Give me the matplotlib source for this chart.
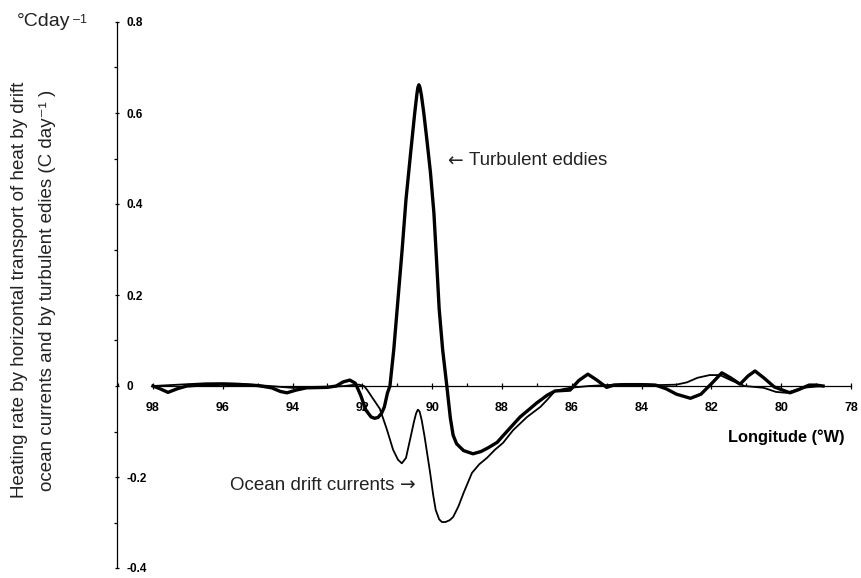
import numpy as np
import matplotlib
matplotlib.use("Agg")
import matplotlib.pyplot as plt
from matplotlib.ticker import MultipleLocator

plt.rcParams['font.family'] = ['Liberation Sans', 'DejaVu Sans']

# turbulent eddies (thick line), longitude in degrees W, heating rate in C/day
eddy_lon = [98.0, 97.8, 97.57, 97.3, 97.03, 96.5, 96.0, 95.5, 95.0, 94.6, 94.35, 94.16,
            93.9, 93.6, 93.0, 92.75, 92.55, 92.36, 92.2, 92.05, 91.9, 91.75, 91.65, 91.55,
            91.45, 91.37, 91.28, 91.21, 91.1, 90.98, 90.86, 90.75, 90.62, 90.5, 90.44, 90.41,
            90.38, 90.35, 90.31, 90.24, 90.15, 90.05, 89.95, 89.87, 89.8, 89.7, 89.58, 89.48,
            89.4, 89.3, 89.1, 88.83, 88.6, 88.4, 88.14, 87.8, 87.48, 87.2, 87.0, 86.7,
            86.48, 86.05, 85.8, 85.54, 85.3, 85.0, 84.8, 84.5, 84.0, 83.6, 83.3, 83.0,
            82.6, 82.3, 82.0, 81.7, 81.45, 81.18, 80.95, 80.75, 80.5, 80.2, 79.75, 79.5,
            79.2, 79.0, 78.8]
eddy_val = [0.0, -0.006, -0.014, -0.006, 0.0, 0.003, 0.004, 0.003, 0.001, -0.004, -0.012, -0.015,
            -0.009, -0.004, -0.003, 0.0, 0.009, 0.013, 0.006, -0.02, -0.053, -0.068, -0.071, -0.069,
            -0.06, -0.046, -0.015, 0.0, 0.08, 0.19, 0.30, 0.41, 0.51, 0.60, 0.64, 0.656,
            0.662, 0.656, 0.64, 0.60, 0.54, 0.47, 0.38, 0.27, 0.17, 0.08, 0.0, -0.07,
            -0.108, -0.127, -0.142, -0.149, -0.144, -0.136, -0.124, -0.095, -0.068, -0.05, -0.037, -0.02,
            -0.011, -0.009, 0.012, 0.026, 0.014, -0.003, 0.002, 0.003, 0.003, 0.002, -0.006, -0.018,
            -0.027, -0.018, 0.005, 0.029, 0.018, 0.004, 0.022, 0.033, 0.018, -0.002, -0.015, -0.008,
            0.002, 0.002, 0.0]

# ocean drift currents (thin line)
drift_lon = [98.0, 97.5, 97.0, 96.5, 96.0, 95.5, 95.0, 94.5, 94.0, 93.5, 93.0, 92.5,
             92.3, 92.1, 91.95, 91.85, 91.72, 91.5, 91.3, 91.12, 90.98, 90.87, 90.75, 90.64,
             90.52, 90.46, 90.41, 90.36, 90.3, 90.22, 90.14, 90.06, 89.97, 89.9, 89.8, 89.72,
             89.62, 89.5, 89.4, 89.25, 89.1, 88.86, 88.65, 88.43, 88.2, 87.97, 87.68, 87.28,
             86.9, 86.7, 86.48, 86.2, 86.05, 85.5, 85.0, 84.5, 84.0, 83.5, 83.0, 82.7,
             82.4, 82.05, 81.75, 81.45, 81.05, 80.5, 80.15, 79.85, 79.4, 78.8]
drift_val = [0.0, 0.002, 0.004, 0.006, 0.006, 0.005, 0.002, -0.001, -0.004, -0.002, -0.002, 0.0,
             0.002, 0.003, 0.0, -0.01, -0.025, -0.05, -0.095, -0.14, -0.162, -0.17, -0.158, -0.12,
             -0.078, -0.06, -0.052, -0.056, -0.075, -0.11, -0.15, -0.19, -0.24, -0.272, -0.293, -0.299,
             -0.299, -0.295, -0.288, -0.265, -0.235, -0.191, -0.172, -0.158, -0.14, -0.125, -0.097, -0.068,
             -0.046, -0.03, -0.011, -0.006, -0.004, 0.0, 0.002, 0.004, 0.004, 0.002, 0.003, 0.008,
             0.018, 0.024, 0.024, 0.013, 0.0, -0.004, -0.013, -0.015, -0.004, 0.0]

x_ticks = [98, 96, 94, 92, 90, 88, 86, 84, 82, 80, 78]
y_ticks = [-0.4, -0.2, 0, 0.2, 0.4, 0.6, 0.8]
y_tick_labels = ["-0.4", "-0.2", "0", "0.2", "0.4", "0.6", "0.8"]

fig = plt.figure(figsize=(8.62, 5.78), dpi=100)
ax = fig.add_axes([117 / 862, 10 / 578, (851 - 117) / 862, (568 - 22) / 578])

ax.plot(drift_lon, drift_val, color='black', lw=1.3, solid_joinstyle='round')
ax.plot(eddy_lon, eddy_val, color='black', lw=2.4, solid_joinstyle='round')

ax.set_xlim(99.03, 78)
ax.set_ylim(-0.4, 0.8)

ax.spines['top'].set_visible(False)
ax.spines['right'].set_visible(False)
ax.spines['bottom'].set_position(('data', 0))
ax.spines['bottom'].set_bounds(98, 78)
for s in ('left', 'bottom'):
    ax.spines[s].set_linewidth(0.9)

ax.set_xticks(x_ticks)
ax.set_xticklabels([str(t) for t in x_ticks])
ax.xaxis.set_minor_locator(MultipleLocator(1))
ax.set_yticks(y_ticks)
ax.set_yticklabels(y_tick_labels)
ax.yaxis.set_minor_locator(MultipleLocator(0.1))

ax.tick_params(axis='x', which='major', direction='inout', length=5, width=0.9,
               pad=9, labelsize=9)
ax.tick_params(axis='x', which='minor', direction='in', length=2.5, width=0.9)
ax.tick_params(axis='y', which='major', direction='inout', length=3, width=0.9,
               pad=-8.7, labelsize=8.5)
ax.tick_params(axis='y', which='minor', direction='out', length=2.5, width=0.9)
for lbl in ax.get_xticklabels() + ax.get_yticklabels():
    lbl.set_fontweight('bold')
for lbl in ax.get_yticklabels():
    lbl.set_horizontalalignment('left')

txt = '#222222'
fig.text(20 / 862, 1 - 290 / 578, "Heating rate by horizontal transport of heat by drift",
         rotation=90, ha='center', va='center', fontsize=13.5, color=txt)
fig.text(48 / 862, 1 - 290 / 578, "ocean currents and by turbulent edies (C day\u207b\u00b9 )",
         rotation=90, ha='center', va='center', fontsize=13.5, color=txt)

fig.text(17 / 862, 1 - 21 / 578, "\u00b0Cday", ha='left', va='center', fontsize=14, color=txt)
fig.text(73 / 862, 1 - 20 / 578, "\u20131", ha='left', va='center', fontsize=9, color=txt)

ax.text(89.58, 0.495, "\u2190", ha='left', va='center', fontsize=13.5, color=txt,
        family='DejaVu Sans')
ax.text(88.95, 0.495, "Turbulent eddies", ha='left', va='center', fontsize=13.5, color=txt)
ax.text(95.8, -0.218, "Ocean drift currents", ha='left', va='center', fontsize=13.5, color=txt)
ax.text(90.93, -0.218, "\u2192", ha='left', va='center', fontsize=13.5, color=txt,
        family='DejaVu Sans')
ax.text(78.17, -0.112, "Longitude (\u00b0W)", ha='right', va='center', fontsize=11.8,
        fontweight='bold', color='black')

fig.savefig("out.png", dpi=100)
